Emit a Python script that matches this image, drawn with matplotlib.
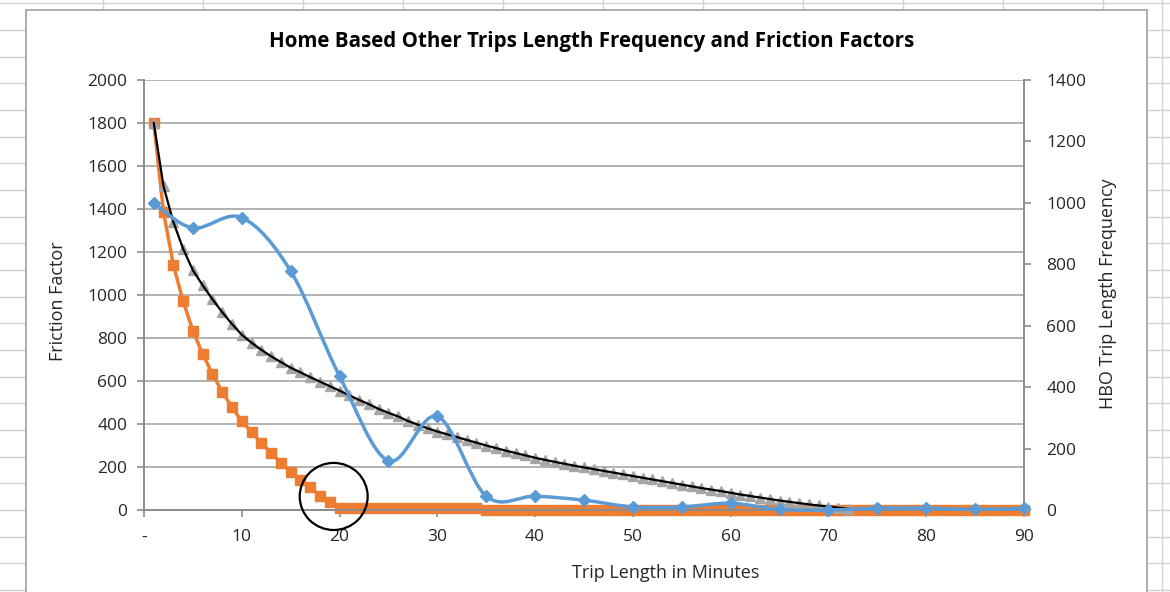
import matplotlib
matplotlib.use("Agg")
from matplotlib import pyplot as plt
from matplotlib.path import Path
from matplotlib.patches import PathPatch, Ellipse, Rectangle
from matplotlib.lines import Line2D

plt.rcParams["font.family"] = ["Open Sans", "DejaVu Sans"]

W, H = 1170, 592

# Friction factors by trip length (left axis)
minutes = list(range(1, 91))
ff_calibrated = [1800, 1385, 1140, 972, 833, 726, 633, 549, 479, 412,
                 363, 312, 265, 220, 178, 140, 105, 67, 37] + [8] * 15 + [0] * 56

fit_minutes = list(range(1, 73))
ff_gamma = [1800, 1505, 1340, 1215, 1115, 1045, 980, 920, 865, 815,
            778, 745, 715, 688, 662, 640, 618, 597, 576, 555,
            533, 512, 492, 470, 452, 435, 414, 397, 380, 365,
            352, 339, 326, 313, 300, 288, 276, 265, 254, 243,
            233, 224, 215, 206, 198, 190, 182, 174, 166, 158,
            150, 142, 134, 126, 118, 110, 102, 95, 88, 80,
            72, 65, 58, 51, 44, 38, 32, 26, 21, 16,
            11, 6]

# HBO trip length frequency (right axis)
tlf_minutes = [1, 5, 10, 15, 20, 25, 30, 35, 40, 45, 50, 55, 60, 65, 70, 75, 80, 85, 90]
tlf_counts = [1000, 918, 952, 778, 436, 160, 305, 45, 45, 32, 10, 10, 22, 2, 0, 6, 6, 2, 5]

x_ticks = list(range(0, 91, 10))
x_labels = ["-"] + [str(v) for v in x_ticks[1:]]
left_ticks = list(range(0, 2001, 200))
right_ticks = list(range(0, 1401, 200))

ORANGE = "#ED7D31"
BLUE = "#5B9BD5"
GRAY = "#A5A5A5"
AXIS = "#8C8C8C"
GRID = "#A6A6A6"
TEXT = "#262626"


def smooth_path(xs, ys):
    # Bezier segments like Excel's "smoothed line"
    pts = list(zip(xs, ys))
    n = len(pts)
    verts = [pts[0]]
    codes = [Path.MOVETO]
    for i in range(n - 1):
        p0 = pts[max(i - 1, 0)]
        p1 = pts[i]
        p2 = pts[i + 1]
        p3 = pts[min(i + 2, n - 1)]
        c1 = (p1[0] + (p2[0] - p0[0]) / 6, p1[1] + (p2[1] - p0[1]) / 6)
        c2 = (p2[0] - (p3[0] - p1[0]) / 6, p2[1] - (p3[1] - p1[1]) / 6)
        verts += [c1, c2, p2]
        codes += [Path.CURVE4] * 3
    return Path(verts, codes)


def fx(px):
    return px / W


def fy(py):
    return (H - py) / H


fig = plt.figure(figsize=(W / 100, H / 100), dpi=100)
fig.patch.set_facecolor("white")

# worksheet cells behind the chart
for k in range(23):
    y = 3.3 + 26.67 * k
    fig.add_artist(Line2D([0, 1], [fy(y), fy(y)], transform=fig.transFigure,
                          color="#D4D4D4", lw=1, zorder=-3))
for px in list(range(103, 1104, 100)) + [1162]:
    fig.add_artist(Line2D([fx(px), fx(px)], [0, 1], transform=fig.transFigure,
                          color="#D4D4D4", lw=1, zorder=-3))
fig.add_artist(Rectangle((fx(26), -0.05), fx(1147) - fx(26), fy(10) + 0.05,
                         transform=fig.transFigure, facecolor="white",
                         edgecolor="#A0A0A0", lw=1.2, zorder=-2))

ax = fig.add_axes([fx(144), fy(510), fx(1024) - fx(144), fy(80) - fy(510)])
ax2 = ax.twinx()

ax.plot(minutes, ff_calibrated, color=ORANGE, lw=2.5, marker="s", ms=6.8,
        mec=ORANGE, mfc=ORANGE, zorder=2, clip_on=False)
ax.plot(fit_minutes, ff_gamma, linestyle="none", marker="^", ms=7.5,
        color=GRAY, zorder=3, clip_on=False)
ax.plot(fit_minutes, ff_gamma, color="black", lw=1.6, zorder=4, clip_on=False)

ax2.add_patch(PathPatch(smooth_path(tlf_minutes, tlf_counts), facecolor="none",
                        edgecolor=BLUE, lw=2.5, zorder=3, clip_on=False))
ax2.plot(tlf_minutes, tlf_counts, linestyle="none", marker="D", ms=6,
         color=BLUE, zorder=4, clip_on=False)

ax2.add_patch(Ellipse((19.4, 63), 6.95, 312, transform=ax.transData,
                      facecolor="none", edgecolor="black", lw=1.6,
                      clip_on=False, zorder=6))

ax.set_xlim(0, 90)
ax.set_ylim(0, 2000)
ax2.set_ylim(0, 1400)

ax.set_xticks(x_ticks)
ax.set_xticklabels(x_labels)
ax.set_yticks(left_ticks)
ax2.set_yticks(right_ticks)

ax.yaxis.grid(True, color=GRID, lw=1.2)
ax.set_axisbelow(True)

for a in (ax, ax2):
    a.spines["top"].set_visible(False)
    for s in ("left", "right", "bottom"):
        a.spines[s].set_color(AXIS)
        a.spines[s].set_linewidth(1.2)

ax.tick_params(axis="x", length=5, width=1.2, color=AXIS, labelsize=12.5,
               labelcolor=TEXT, pad=9)
ax.tick_params(axis="y", length=5, width=1.2, color=AXIS, labelsize=12.5,
               labelcolor=TEXT, pad=7)
ax2.tick_params(axis="y", length=5, width=1.2, color=AXIS, labelsize=12.5,
                labelcolor=TEXT, pad=11)

fig.text(fx(592), fy(42), "Home Based Other Trips Length Frequency and Friction Factors",
         ha="center", va="center", fontsize=14.8, fontweight="bold", color="black")
fig.text(fx(666), fy(573), "Trip Length in Minutes", ha="center", va="center",
         fontsize=13, color=TEXT)
fig.text(fx(58), fy(301), "Friction Factor", ha="center", va="center",
         rotation=90, fontsize=13, color=TEXT)
fig.text(fx(1108), fy(294), "HBO Trip Length Frequency", ha="center", va="center",
         rotation=90, fontsize=13, color=TEXT)

fig.savefig("out.png", dpi=100)
